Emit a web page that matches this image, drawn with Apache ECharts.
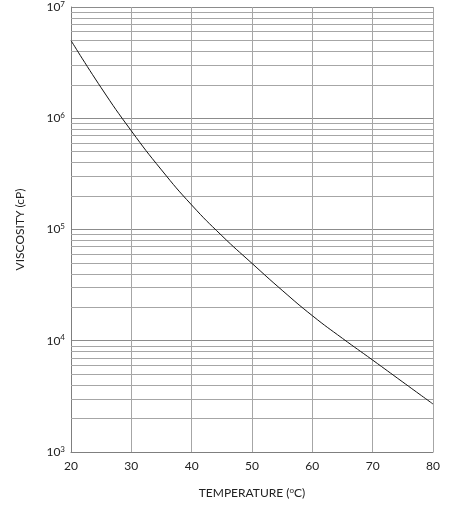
<!DOCTYPE html>
<html>
<head>
<meta charset="utf-8">
<script src="https://cdn.jsdelivr.net/npm/echarts@6/dist/echarts.min.js"></script>
<style>
  html, body { margin: 0; padding: 0; background: #fff; }
  #chart_visc { width: 456px; height: 520px; }
</style>
</head>
<body>
<div id="chart_visc"></div>
<script>
var myChart = echarts.init(document.getElementById('chart_visc'));
var fontsty = 'Lato';

// temperature (C) and viscosity (cP)
var temps = [20, 25, 30, 35, 40, 45, 50, 55, 60, 65, 70, 75, 80];
var viscosity = [5.0e6, 1.88e6, 7.7e5, 3.43e5, 1.66e5, 8.8e4, 4.96e4, 2.84e4, 1.68e4, 1.05e4, 6.7e3, 4.25e3, 2.7e3];

// log grid: minor lines at 2..9 of each decade
var decades = [1e3, 1e4, 1e5, 1e6];
var mults = [2, 3, 4, 5, 6, 7, 8, 9];

var curve = [];
for (var i = 0; i < temps.length; i++) {
  curve.push([temps[i], viscosity[i]]);
}
var minorLines = [];
for (var d = 0; d < decades.length; d++) {
  for (var m = 0; m < mults.length; m++) {
    minorLines.push({ yAxis: decades[d] * mults[m] });
  }
}

var option = {
  animation: false,
  grid: { left: 71, top: 7, right: 23, bottom: 68 },
  xAxis: {
    type: 'value',
    min: 20,
    max: 80,
    interval: 10,
    name: 'TEMPERATURE ({s|o}C)',
    nameLocation: 'middle',
    nameGap: 34,
    nameTextStyle: {
      fontSize: 12,
      color: '#222',
      fontFamily: fontsty,
      rich: { s: { fontSize: 8, padding: [0, 0, 6, 0], fontFamily: fontsty, color: '#222' } }
    },
    axisLine: { show: true, lineStyle: { color: '#7f7f7f', width: 1 } },
    axisTick: { show: false },
    axisLabel: { fontSize: 12, color: '#222', fontFamily: fontsty, margin: 8 },
    splitLine: { show: true, lineStyle: { color: '#a6a6a6', width: 1 } }
  },
  yAxis: {
    type: 'log',
    logBase: 10,
    min: 1e3,
    max: 1e7,
    name: 'VISCOSITY (cP)',
    nameLocation: 'middle',
    nameGap: 45,
    nameTextStyle: { fontSize: 12, color: '#222', fontFamily: fontsty },
    axisLine: { show: true, lineStyle: { color: '#7f7f7f', width: 1 } },
    axisTick: { show: false },
    axisLabel: {
      margin: 6,
      formatter: function (value) {
        return '{b|10}{s|' + Math.round(Math.log10(value)) + '}';
      },
      rich: {
        b: { fontSize: 12, color: '#222', fontFamily: fontsty },
        s: { fontSize: 8, color: '#222', fontFamily: fontsty, padding: [0, 0, 6, 0] }
      }
    },
    splitLine: { show: true, lineStyle: { color: '#8c8c8c', width: 1 } }
  },
  series: [
    {
      type: 'line',
      data: curve,
      smooth: true,
      symbol: 'none',
      lineStyle: { color: '#111', width: 1 },
      z: 5,
      markLine: {
        silent: true,
        symbol: 'none',
        label: { show: false },
        lineStyle: { color: '#a6a6a6', width: 1, type: 'solid' },
        data: minorLines,
        z: 1
      }
    }
  ]
};
myChart.setOption(option);
</script>
</body>
</html>
